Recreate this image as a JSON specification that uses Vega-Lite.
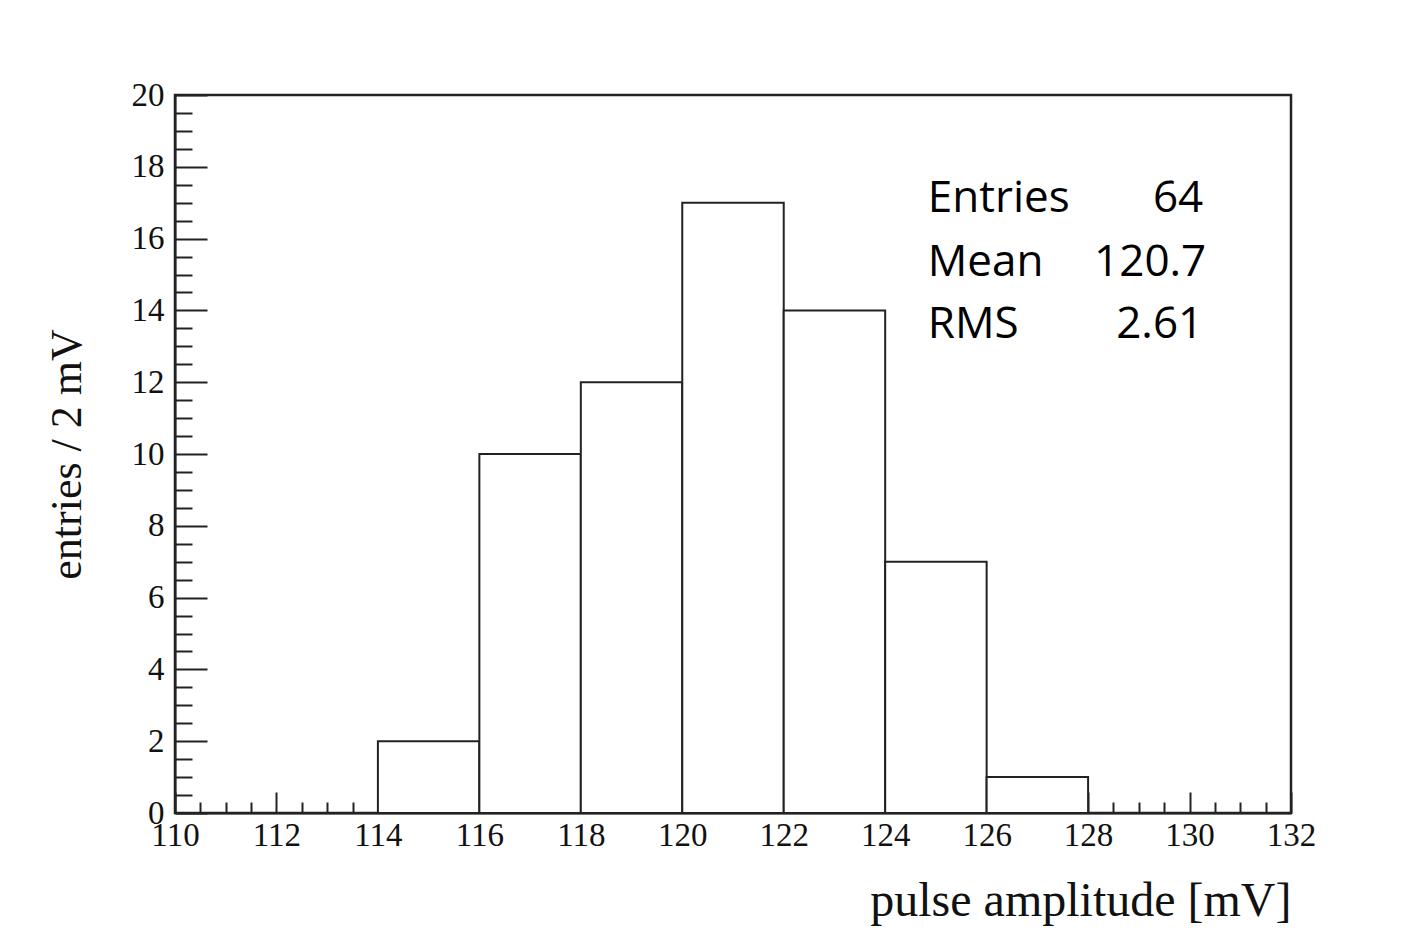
{
  "$schema": "https://vega.github.io/schema/vega-lite/v6.json",
  "autosize": {"type": "none"},
  "width": 1116,
  "height": 718,
  "padding": {"left": 175, "top": 95, "right": 114, "bottom": 119},
  "background": "white",
  "config": {
    "view": {"stroke": "#222222", "strokeWidth": 2.5},
    "axis": {
      "labelFont": "Liberation Serif",
      "titleFont": "Liberation Serif",
      "labelColor": "#111111",
      "titleColor": "#111111",
      "domainColor": "#222222",
      "domainWidth": 2,
      "tickColor": "#222222",
      "tickWidth": 2,
      "grid": false,
      "titleFontWeight": "normal"
    }
  },
  "datasets": {
    "hist": [
      {"lo": 110, "hi": 112, "count": 0},
      {"lo": 112, "hi": 114, "count": 0},
      {"lo": 114, "hi": 116, "count": 2},
      {"lo": 116, "hi": 118, "count": 10},
      {"lo": 118, "hi": 120, "count": 12},
      {"lo": 120, "hi": 122, "count": 17},
      {"lo": 122, "hi": 124, "count": 14},
      {"lo": 124, "hi": 126, "count": 7},
      {"lo": 126, "hi": 128, "count": 1},
      {"lo": 128, "hi": 130, "count": 0},
      {"lo": 130, "hi": 132, "count": 0}
    ]
  },
  "layer": [
    {
      "data": {"name": "hist"},
      "mark": {"type": "rect", "fill": "white", "stroke": "#222222", "strokeWidth": 2},
      "encoding": {
        "x": {
          "field": "lo", "type": "quantitative",
          "scale": {"domain": [110, 132], "nice": false, "zero": false},
          "axis": {
            "values": [110, 112, 114, 116, 118, 120, 122, 124, 126, 128, 130, 132],
            "format": "d",
            "tickSize": -21,
            "labelFontSize": 33,
            "labelPadding": 27,
            "labelFlush": false,
            "labelOverlap": false,
            "title": "pulse amplitude [mV]",
            "titleFontSize": 48,
            "titleAnchor": "end",
            "titlePadding": 25
          }
        },
        "x2": {"field": "hi"},
        "y": {
          "field": "count", "type": "quantitative",
          "scale": {"domain": [0, 20], "nice": false},
          "axis": {
            "values": [0, 2, 4, 6, 8, 10, 12, 14, 16, 18, 20],
            "format": "d",
            "tickSize": -32,
            "labelFontSize": 33,
            "labelPadding": 43,
            "labelFlush": false,
            "labelOverlap": false,
            "title": "entries / 2 mV",
            "titleFontSize": 44,
            "titlePadding": 42
          }
        },
        "y2": {"datum": 0}
      }
    },
    {
      "data": {"name": "hist"},
      "mark": {"type": "rect", "opacity": 0},
      "encoding": {
        "x": {
          "field": "lo", "type": "quantitative",
          "scale": {"domain": [110, 132], "nice": false, "zero": false},
          "axis": {
            "orient": "bottom",
            "values": [110.5, 111, 111.5, 112.5, 113, 113.5, 114.5, 115, 115.5, 116.5, 117, 117.5, 118.5, 119, 119.5, 120.5, 121, 121.5, 122.5, 123, 123.5, 124.5, 125, 125.5, 126.5, 127, 127.5, 128.5, 129, 129.5, 130.5, 131, 131.5],
            "tickSize": -11,
            "labels": false,
            "domain": false,
            "title": null
          }
        },
        "x2": {"field": "hi"},
        "y": {
          "field": "count", "type": "quantitative",
          "scale": {"domain": [0, 20], "nice": false},
          "axis": {
            "orient": "left",
            "values": [0.5, 1, 1.5, 2.5, 3, 3.5, 4.5, 5, 5.5, 6.5, 7, 7.5, 8.5, 9, 9.5, 10.5, 11, 11.5, 12.5, 13, 13.5, 14.5, 15, 15.5, 16.5, 17, 17.5, 18.5, 19, 19.5],
            "tickSize": -17,
            "labels": false,
            "domain": false,
            "title": null
          }
        },
        "y2": {"datum": 0}
      }
    },
    {
      "data": {"values": [{"name": "Entries", "value": "64"}]},
      "layer": [
        {
          "mark": {"type": "text", "align": "left", "baseline": "alphabetic", "font": "Open Sans", "fontSize": 44, "color": "#000000"},
          "encoding": {"text": {"field": "name"}, "x": {"datum": 124.84, "axis": null}, "y": {"datum": 16.74, "axis": null}}
        },
        {
          "mark": {"type": "text", "align": "right", "baseline": "alphabetic", "font": "Open Sans", "fontSize": 44, "color": "#000000"},
          "encoding": {"text": {"field": "value"}, "x": {"datum": 130.27, "axis": null}, "y": {"datum": 16.74, "axis": null}}
        }
      ]
    },
    {
      "data": {"values": [{"name": "Mean", "value": "120.7"}]},
      "layer": [
        {
          "mark": {"type": "text", "align": "left", "baseline": "alphabetic", "font": "Open Sans", "fontSize": 44, "color": "#000000"},
          "encoding": {"text": {"field": "name"}, "x": {"datum": 124.84, "axis": null}, "y": {"datum": 14.96, "axis": null}}
        },
        {
          "mark": {"type": "text", "align": "right", "baseline": "alphabetic", "font": "Open Sans", "fontSize": 44, "color": "#000000"},
          "encoding": {"text": {"field": "value"}, "x": {"datum": 130.33, "axis": null}, "y": {"datum": 14.96, "axis": null}}
        }
      ]
    },
    {
      "data": {"values": [{"name": "RMS", "value": "2.61"}]},
      "layer": [
        {
          "mark": {"type": "text", "align": "left", "baseline": "alphabetic", "font": "Open Sans", "fontSize": 44, "color": "#000000"},
          "encoding": {"text": {"field": "name"}, "x": {"datum": 124.84, "axis": null}, "y": {"datum": 13.22, "axis": null}}
        },
        {
          "mark": {"type": "text", "align": "right", "baseline": "alphabetic", "font": "Open Sans", "fontSize": 44, "color": "#000000"},
          "encoding": {"text": {"field": "value"}, "x": {"datum": 130.27, "axis": null}, "y": {"datum": 13.22, "axis": null}}
        }
      ]
    }
  ],
  "resolve": {"axis": {"x": "independent", "y": "independent"}}
}
